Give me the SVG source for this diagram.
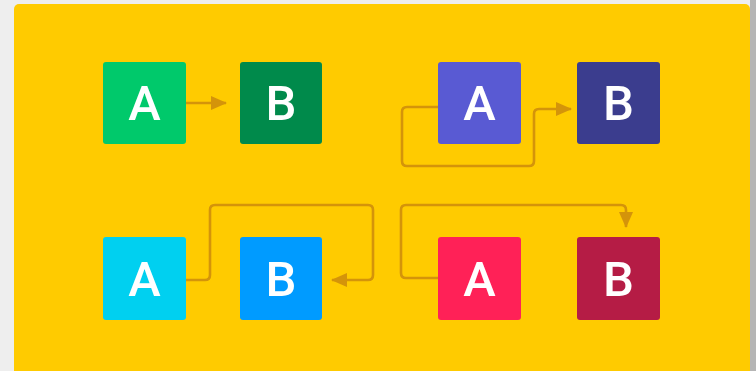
<svg xmlns="http://www.w3.org/2000/svg" width="756" height="371" viewBox="0 0 756 371">
<defs>
<style>
.lbl{font-family:"Roboto","Liberation Sans",sans-serif;font-size:49px;font-weight:500;fill:#fff;text-anchor:middle}
.conn{fill:none;stroke:#D4940A;stroke-width:2.6;stroke-linejoin:round}
</style>
<marker id="ah" viewBox="0 0 16 14" refX="15" refY="7" markerWidth="16" markerHeight="14" markerUnits="userSpaceOnUse" orient="auto">
<path d="M0,0 L16,7 L0,14 z" fill="#D4940A"/>
</marker>
</defs>
<rect x="0" y="0" width="756" height="371" fill="#EEEEEE"/>
<rect x="750" y="0" width="6" height="371" fill="#B5B5B5"/>
<rect x="14" y="4" width="736" height="380" rx="5" fill="#FFCB00"/>
<g id="connectors">
<path class="conn" d="M186,103 H226" marker-end="url(#ah)"/>
<path class="conn" d="M438,107 H407 Q402,107 402,112 V161 Q402,166 407,166 H529 Q534,166 534,161 V114 Q534,109 539,109 H571" marker-end="url(#ah)"/>
<path class="conn" d="M186,280 H205 Q210,280 210,275 V210 Q210,205 215,205 H368 Q373,205 373,210 V275 Q373,280 368,280 H332" marker-end="url(#ah)"/>
<path class="conn" d="M438,278 H406 Q401,278 401,273 V210 Q401,205 406,205 H621 Q626,205 626,210 V227" marker-end="url(#ah)"/>
</g>
<g id="n1a"><rect x="103" y="62" width="83" height="82" rx="3" fill="#00C96B"/><text class="lbl" x="144.5" y="120">A</text></g>
<g id="n1b"><rect x="240" y="62" width="82" height="82" rx="3" fill="#008A4B"/><text class="lbl" x="281" y="120">B</text></g>
<g id="n2a"><rect x="438" y="62" width="83" height="82" rx="3" fill="#595AD3"/><text class="lbl" x="479.5" y="120">A</text></g>
<g id="n2b"><rect x="577" y="62" width="83" height="82" rx="3" fill="#3B3D8E"/><text class="lbl" x="618.5" y="120">B</text></g>
<g id="n3a"><rect x="103" y="237" width="83" height="83" rx="3" fill="#00D0F0"/><text class="lbl" x="144.5" y="296">A</text></g>
<g id="n3b"><rect x="240" y="237" width="82" height="83" rx="3" fill="#009BFF"/><text class="lbl" x="281" y="296">B</text></g>
<g id="n4a"><rect x="438" y="237" width="83" height="83" rx="3" fill="#FF2157"/><text class="lbl" x="479.5" y="296">A</text></g>
<g id="n4b"><rect x="577" y="237" width="83" height="83" rx="3" fill="#B51C45"/><text class="lbl" x="618.5" y="296">B</text></g>
</svg>
